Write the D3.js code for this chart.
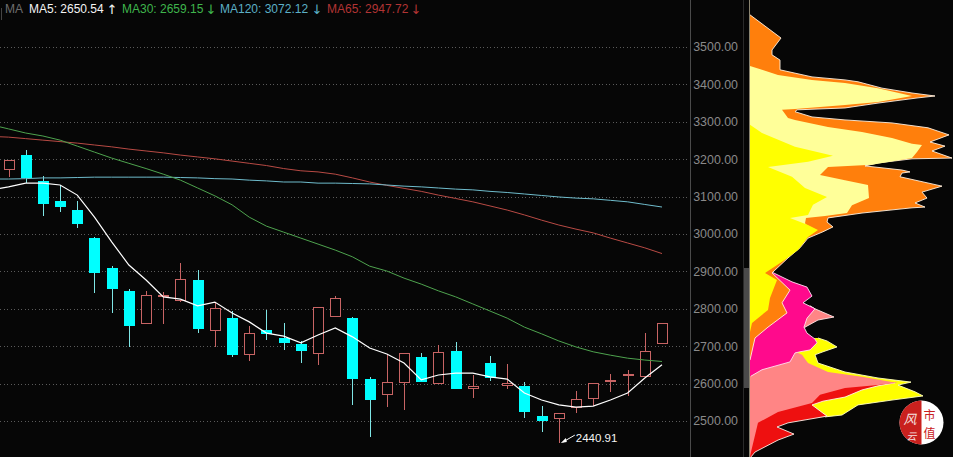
<!DOCTYPE html>
<html>
<head>
<meta charset="utf-8">
<script src="https://cdn.jsdelivr.net/npm/d3@7/dist/d3.min.js"></script>
<style>
html,body{margin:0;padding:0;background:#060606;overflow:hidden}
svg{display:block}
text{font-family:"Liberation Sans",Arial,sans-serif}
</style>
</head>
<body>
<svg id="chart" width="953" height="457"></svg>
<script>
// Daily candles, oldest first
const opens  = [3171,3211,3142,3088,3064,2989,2909,2848,2759,2832,2821,2877,2741,2775,2676,2743,2722,2706,2679,2778,2775,2612,2570,2602,2671,2599,2687,2586,2655,2594,2594,2513,2505,2535,2559,2607,2620,2618,2706];
const closes = [3198,3150,3080,3072,3027,2896,2853,2754,2837,2837,2880,2746,2802,2676,2735,2733,2709,2687,2805,2829,2612,2556,2604,2682,2604,2685,2586,2594,2615,2602,2524,2500,2521,2559,2602,2610,2626,2687,2762];
const highs  = [3198,3225,3155,3131,3088,2992,2914,2853,2848,2845,2922,2904,2818,2794,2754,2797,2762,2714,2805,2834,2778,2618,2679,2682,2682,2703,2711,2623,2674,2652,2604,2540,2521,2580,2602,2626,2636,2735,2762];
const lows   = [3152,3136,3048,3059,3016,2842,2789,2698,2759,2759,2818,2735,2698,2671,2660,2717,2690,2655,2650,2778,2543,2457,2537,2529,2604,2599,2586,2562,2607,2586,2508,2471,2440.91,2521,2540,2578,2567,2618,2706];

// Moving averages; each series opens one session before the first candle
const ma5   = [3118,3126,3136,3136,3131,3104,3045,2979,2917,2877,2832,2826,2808,2818,2789,2765,2735,2727,2709,2730,2749,2725,2695,2679,2655,2610,2623,2628,2628,2618,2612,2575,2556,2543,2537,2540,2556,2575,2615,2650.54];
const ma30  = [3292,3281,3270,3262,3251,3235,3219,3203,3189,3175,3160,3144,3123,3102,3078,3045,3021,3005,2989,2973,2957,2939,2914,2901,2882,2866,2848,2832,2813,2794,2775,2751,2733,2714,2698,2685,2676,2668,2663,2659.15];
const ma120 = [3147,3147,3148,3150,3150,3151,3152,3152,3152,3152,3152,3151,3150,3148,3147,3144,3142,3139,3139,3136,3136,3135,3134,3131,3128,3126,3123,3120,3118,3114,3111,3107,3103,3099,3096,3094,3090,3086,3079,3072.12];
const ma65  = [3261,3259,3255,3251,3247,3243,3238,3233,3227,3222,3217,3211,3206,3201,3195,3189,3183,3175,3169,3166,3160,3150,3139,3130,3122,3114,3104,3095,3086,3075,3064,3051,3037,3024,3013,3003,2989,2976,2963,2947.72];

// Axis ticks
const priceTicks = [3500,3400,3300,3200,3100,3000,2900,2800,2700,2600,2500];

// Legend entries
const legendItems = [
  {label:"MA5: 2650.54",   arrow:"↑", color:"#f4f4f4", x:29,  ax:112},
  {label:"MA30: 2659.15",  arrow:"↓", color:"#3fb54c", x:122, ax:211},
  {label:"MA120: 3072.12", arrow:"↓", color:"#5cb0c6", x:220, ax:317},
  {label:"MA65: 2947.72",  arrow:"↓", color:"#b23434", x:327, ax:416}
];

// Volume-at-price layers: [price, relative volume]
const volOrange = [[3586,0],[3524,31],[3492,22],[3479,22],[3465,30],[3439,30],[3420,62],[3412,95],[3407,108],[3390,132],[3377,162],[3369,185],[3364,168],[3350,128],[3337,95],[3332,47],[3327,45],[3313,62],[3305,95],[3297,142],[3284,178],[3265,199],[3246,180],[3235,195],[3222,182],[3203,202],[3201,162],[3190,128],[3182,115],[3171,152],[3166,160],[3163,152],[3153,150],[3128,192],[3112,172],[3096,177],[3083,165],[3072,175],[3070,162],[3056,112],[3043,78],[3032,77],[3019,83],[3006,73],[2989,58],[2963,50],[2936,38],[2896,22],[2850,40],[2816,32],[2789,37],[2751,18],[2722,5],[2663,0]];
const volPale = [[3449,0],[3439,12],[3425,28],[3412,62],[3404,95],[3390,128],[3369,162],[3353,128],[3345,95],[3334,45],[3332,32],[3310,38],[3305,45],[3286,78],[3273,112],[3257,142],[3241,162],[3238,172],[3219,167],[3203,162],[3185,122],[3179,78],[3158,70],[3144,95],[3131,118],[3096,119],[3077,102],[3056,97],[3048,75],[3043,56],[3029,55],[3016,60],[3011,50],[3006,0]];
const volYellow = [[3292,0],[3270,12],[3233,45],[3209,83],[3193,58],[3179,18],[3153,42],[3123,55],[3099,77],[3078,63],[3051,58],[3043,40],[3024,58],[3011,68],[2992,58],[2957,48],[2931,35],[2896,15],[2877,27],[2829,20],[2797,18],[2762,2],[2738,0]];
const volMagenta = [[2898,22],[2872,42],[2858,57],[2834,62],[2816,53],[2800,65],[2775,57],[2751,54],[2735,57],[2719,65],[2709,67],[2690,60],[2685,50],[2682,45],[2658,40],[2637,12],[2620,1]];
const volSalmonUpper = [[2808,60],[2800,65],[2778,84],[2770,68],[2751,55],[2735,50]];
const volYellowLower = [[2722,68],[2714,77],[2698,87],[2685,73],[2677,65],[2655,68],[2631,95],[2615,128],[2604,161],[2596,148],[2578,165],[2567,173],[2556,142],[2543,108],[2516,92],[2511,75]];
const volRed = [[2602,145],[2594,128],[2583,112],[2564,95],[2553,73],[2543,62],[2513,77],[2495,38],[2484,27],[2465,44],[2449,28],[2417,5],[2404,1]];
const volSalmon = [[2685,45],[2677,52],[2666,55],[2655,58],[2631,78],[2618,112],[2604,142],[2602,148],[2596,128],[2588,95],[2570,70],[2548,62],[2524,28],[2495,8],[2417,1],[2404,0]];

const lowLabel = "2440.91";

const svg = d3.select("#chart");
const y = d3.scaleLinear().domain([2500,3500]).range([421,47]);
const x = d3.scaleLinear().domain([0,38]).range([8.5,662]);
const vol = d3.scaleLinear().domain([0,203]).range([750,953]);

// Dotted price grid
const gridAxis = d3.axisRight(y).tickValues(priceTicks).tickSize(690).tickFormat("");
const grid = svg.append("g").call(gridAxis);
grid.select(".domain").remove();
grid.selectAll("line").attr("stroke","#5a5a5a").attr("stroke-dasharray","1,2.5").attr("shape-rendering","crispEdges");

// Price labels
const priceAxis = d3.axisLeft(y).tickValues(priceTicks).tickSize(0).tickPadding(0).tickFormat(d3.format(".2f"));
const axisG = svg.append("g").attr("transform","translate(738,0)").call(priceAxis);
axisG.select(".domain").remove();
axisG.selectAll("text").attr("fill","#8a8a8a").style("font-size","12.4px").style("font-family",'"Liberation Sans",Arial,sans-serif');

// Panel separators and the scroll handle
const frame = svg.append("g").attr("shape-rendering","crispEdges");
frame.append("line").attr("x1",690.5).attr("x2",690.5).attr("y1",0).attr("y2",457).attr("stroke","#4a4a4a");
frame.append("line").attr("x1",743.5).attr("x2",743.5).attr("y1",0).attr("y2",457).attr("stroke","#2a2a2a");
frame.append("rect").attr("x",744).attr("y",268).attr("width",5).attr("height",120).attr("fill","#4a4a4a");
svg.append("path").attr("d","M744,326L748,318L748,335Z").attr("fill","#dcdcdc");
frame.append("line").attr("x1",1).attr("x2",1).attr("y1",8).attr("y2",20).attr("stroke","#444");

// Volume-at-price profile, back layers first
const area = d3.area().x0(vol(0)).x1(d => vol(d[1])).y(d => y(d[0]));
const edge = d3.line().x(d => vol(d[1])).y(d => y(d[0]));
const layers = [
  {rows:volSalmonUpper, fill:"#ff8585", line:"#ffe8e8"},
  {rows:volYellowLower, fill:"#ffff00", line:"#ffffc0"},
  {rows:volRed,         fill:"#ee1010", line:"#fff0e8"},
  {rows:volSalmon,      fill:"#ff8585", line:null},
  {rows:volMagenta,     fill:"#ff0a8c", line:"#ffe0f0"},
  {rows:volOrange,      fill:"#ff7f0c", line:"#fff0e0"},
  {rows:volPale,        fill:"#ffff99", line:null},
  {rows:volYellow,      fill:"#ffff00", line:null}
];
const profile = svg.append("g");
layers.forEach(l => {
  profile.append("path").attr("d",area(l.rows)).attr("fill",l.fill);
  if (l.line) profile.append("path").attr("d",edge(l.rows)).attr("fill","none").attr("stroke",l.line).attr("stroke-width",0.9);
});
frame.raise();
svg.append("line").attr("x1",749.5).attr("x2",749.5).attr("y1",0).attr("y2",457).attr("stroke","#8a8470").attr("shape-rendering","crispEdges");

// Candles: rising sessions hollow red, falling sessions solid cyan
const candles = opens.map((o,i) => ({i, o, c:closes[i], h:highs[i], l:lows[i]}));
const bodyW = 11;
const candle = svg.append("g").selectAll("g").data(candles).join("g").attr("shape-rendering","crispEdges");
candle.each(function(d){
  const g = d3.select(this);
  const up = d.c >= d.o;
  const cx = Math.round(x(d.i)) + 0.5;
  const top = Math.round(y(Math.max(d.o,d.c)));
  const bot = Math.round(y(Math.min(d.o,d.c)));
  const color = up ? "#c86464" : "#00ffff";
  const wick = up ? "#c86464" : "#7fe6e6";
  g.append("line").attr("x1",cx).attr("x2",cx).attr("y1",y(d.h)).attr("y2",top).attr("stroke",wick);
  g.append("line").attr("x1",cx).attr("x2",cx).attr("y1",bot).attr("y2",y(d.l)).attr("stroke",wick);
  if (up) {
    g.append("rect").attr("x",cx-bodyW/2).attr("y",top+0.5).attr("width",bodyW-1).attr("height",Math.max(bot-top-1,1))
      .attr("fill","#060606").attr("stroke",color);
  } else {
    g.append("rect").attr("x",cx-bodyW/2-0.5).attr("y",top).attr("width",bodyW).attr("height",Math.max(bot-top,1)).attr("fill",color);
  }
});

// Moving average lines
const maLine = d3.line().x((d,i) => x(i-1)).y(d => y(d));
[[ma65,"#b84a44"],[ma120,"#6fbccc"],[ma30,"#4ea34e"],[ma5,"#ffffff"]].forEach(([vals,col]) => {
  svg.append("path").attr("d",maLine(vals)).attr("fill","none").attr("stroke",col).attr("stroke-width",col==="#ffffff"?1.2:1);
});

// Legend
const legend = svg.append("g").style("font-size","12px");
legend.append("text").attr("x",5).attr("y",13).attr("fill","#6e6e6e").text("MA");
legendItems.forEach(it => {
  legend.append("text").attr("x",it.x).attr("y",13).attr("fill",it.color).text(it.label);
  legend.append("text").attr("x",it.ax).attr("y",13.5).attr("text-anchor","middle").attr("fill",it.color)
    .style("font-family",'"DejaVu Sans",sans-serif').style("font-size","13px").text(it.arrow);
});

// Lowest price callout
const lowIdx = lows.indexOf(d3.min(lows));
const lx = x(lowIdx) + 2, ly = y(d3.min(lows));
svg.append("line").attr("x1",lx+14).attr("y1",ly-8).attr("x2",lx+2).attr("y2",ly-1).attr("stroke","#fff");
svg.append("path").attr("d",d3.line()([[lx,ly],[lx+5,ly-5],[lx+6,ly-1]])).attr("fill","#fff");
svg.append("text").attr("x",lx+15).attr("y",ly-1).attr("fill","#f4f4f4").style("font-size","11.5px").text(lowLabel);

// Brand stamp
const stamp = svg.append("g").attr("transform","translate(921.5,422.5)");
stamp.append("circle").attr("r",22).attr("fill","#ffffff");
stamp.append("path").attr("d",d3.arc()({innerRadius:0,outerRadius:22,startAngle:Math.PI,endAngle:2*Math.PI})).attr("fill","#c9211e");
const cjk = '"Noto Sans CJK SC",sans-serif';
[["市",2,-3],["值",2,15]].forEach(([t,tx,ty]) => {
  stamp.append("text").attr("x",tx).attr("y",ty).attr("fill","#c9211e").style("font-family",cjk).style("font-size","12px").text(t);
});
[["风",-18,1,13],["云",-15,17,10]].forEach(([t,tx,ty,fs]) => {
  stamp.append("text").attr("transform",`translate(${tx},${ty}) skewX(-14)`).attr("fill","#f6e4e0").style("font-family",cjk).style("font-size",fs+"px").text(t);
});
</script>
</body>
</html>
